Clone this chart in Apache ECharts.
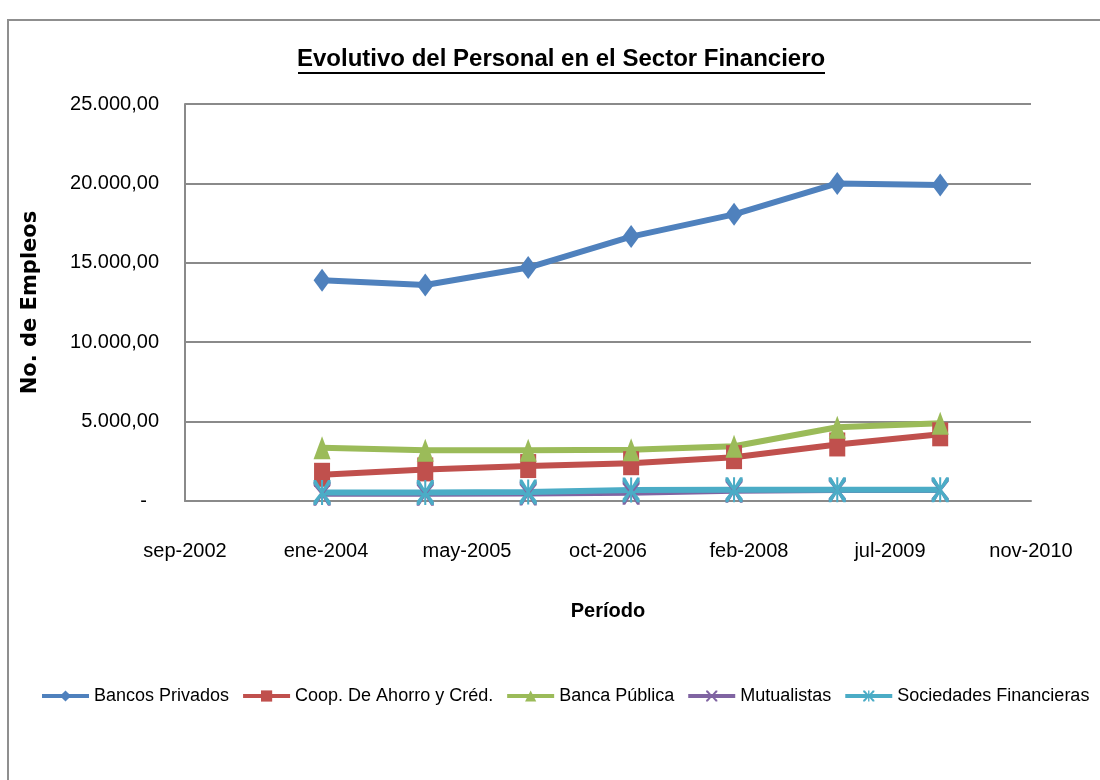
<!DOCTYPE html>
<html>
<head>
<meta charset="utf-8">
<script src="https://cdn.jsdelivr.net/npm/echarts@6/dist/echarts.min.js"></script>
<style>
html,body{margin:0;padding:0;background:#fff;}
#chart{width:1100px;height:780px;}
</style>
</head>
<body>
<div id="chart"></div>
<script>
// ---- data ----
const periodos = ['2003-12-31','2004-12-31','2005-12-31','2006-12-31','2007-12-31','2008-12-31','2009-12-31'];
const bancosPrivados = [13900, 13600, 14700, 16650, 18050, 20000, 19900];
const coopAhorro = [1650, 1990, 2200, 2380, 2760, 3560, 4200];
const bancaPublica = [3350, 3200, 3200, 3230, 3450, 4640, 4900];
const mutualistas = [450, 450, 480, 520, 650, 700, 700];
const sociedades = [540, 540, 570, 690, 710, 710, 710];
const xTickLabels = ['sep-2002','ene-2004','may-2005','oct-2006','feb-2008','jul-2009','nov-2010'];
const xMin = 37500, xMax = 40500, xStep = 500; // Excel date serials
const seriesNames = ['Bancos Privados','Coop. De Ahorro y Créd.','Banca Pública','Mutualistas','Sociedades Financieras'];

function toSerial(s){
  const p = s.split('-').map(Number);
  return Date.UTC(p[0], p[1]-1, p[2]) / 86400000 + 25569;
}
function pairs(vals){ return vals.map((v,i)=>[toSerial(periodos[i]), v]); }
function fmtNum(v){
  if (v === 0) return '{z|-}';
  const parts = v.toFixed(2).split('.');
  return parts[0].replace(/\B(?=(\d{3})+(?!\d))/g,'.') + ',' + parts[1];
}

const xPath = 'path://M0,0 L3,0 L10,8 L17,0 L20,0 L20,3 L12,10 L20,17 L20,20 L17,20 L10,12 L3,20 L0,20 L0,17 L8,10 L0,3 Z';
const starPath = 'path://M0,0 L3,0 L10,8 L17,0 L20,0 L20,3 L12,10 L20,17 L20,20 L17,20 L10,12 L3,20 L0,20 L0,17 L8,10 L0,3 Z M8.8,0 L11.2,0 L11.2,20 L8.8,20 Z';

const colors = ['#4F81BD','#C0504D','#9BBB59','#8064A2','#4BACC6'];
const symbols = ['diamond','rect','triangle', xPath, starPath];
const dataSets = [bancosPrivados, coopAhorro, bancaPublica, mutualistas, sociedades];
const symSizes = [[17,23],[16,24],[17,23],[17,24],[17,25]];

const chart = echarts.init(document.getElementById('chart'));
const option = {
  animation: false,
  backgroundColor: '#ffffff',
  color: colors,
  graphic: [
    { type: 'rect', shape: { x: 8, y: 20, width: 1110, height: 780 }, style: { fill: 'none', stroke: '#8f8f8f', lineWidth: 2 }, silent: true },
    { type: 'text', left: 297, top: 47, style: { text: 'Evolutivo del Personal en el Sector Financiero', fontFamily: 'Liberation Sans', fontWeight: 'bold', fontSize: 24, fill: '#000' } },
    { type: 'line', shape: { x1: 298, y1: 73, x2: 825, y2: 73 }, style: { stroke: '#000', lineWidth: 2 } }
  ],
  legend: {
    left: 35, top: 682,
    itemWidth: 47, itemHeight: 14, itemGap: 12,
    textStyle: { fontFamily: 'Liberation Sans', fontSize: 18, color: '#000' },
    lineStyle: { width: 4 },
    data: seriesNames
  },
  grid: { left: 185, right: 69, top: 104, bottom: 279, containLabel: false },
  xAxis: {
    type: 'value', min: xMin, max: xMax, interval: xStep,
    name: 'Período', nameLocation: 'middle', nameGap: 100,
    nameTextStyle: { fontFamily: 'Liberation Sans', fontWeight: 'bold', fontSize: 20, color: '#000' },
    axisLine: { show: true, lineStyle: { color: '#8a8a8a', width: 2 } },
    axisTick: { show: false },
    splitLine: { show: false },
    axisLabel: {
      margin: 40, fontFamily: 'Liberation Sans', fontSize: 20, color: '#000',
      formatter: v => xTickLabels[Math.round((v - xMin) / xStep)]
    }
  },
  yAxis: {
    type: 'value', min: 0, max: 25000, interval: 5000,
    name: 'No. de Empleos', nameLocation: 'middle', nameGap: 144, nameRotate: 90,
    nameTextStyle: { fontFamily: 'DejaVu Sans', fontWeight: 'bold', fontSize: 21, color: '#000' },
    axisLine: { show: true, lineStyle: { color: '#8a8a8a', width: 2 } },
    axisTick: { show: false },
    splitLine: { show: true, lineStyle: { color: '#8a8a8a', width: 2 } },
    axisLabel: {
      margin: 26, fontFamily: 'Liberation Sans', fontSize: 20, color: '#000',
      formatter: fmtNum,
      rich: { z: { fontFamily: 'Liberation Sans', fontSize: 20, color: '#000', padding: [0, 12, 0, 0] } }
    }
  },
  series: seriesNames.map((name, i) => ({
    name: name,
    type: 'line',
    data: pairs(dataSets[i]),
    symbol: symbols[i],
    symbolSize: symSizes[i],
    showAllSymbol: true,
    lineStyle: { width: 6, color: colors[i] },
    itemStyle: { color: colors[i] }
  }))
};
chart.setOption(option);
</script>
</body>
</html>
